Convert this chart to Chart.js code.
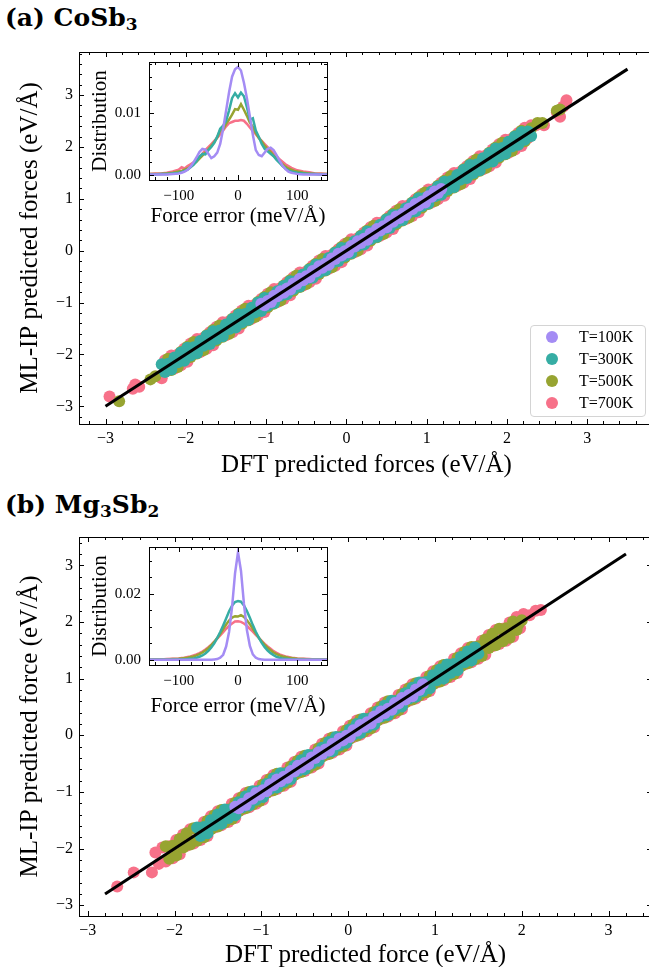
<!DOCTYPE html>
<html lang="en">
<head>
<meta charset="UTF-8">
<title>ML-IP vs DFT forces</title>
<script src="https://cdn.jsdelivr.net/npm/chart.js@4.4.3/dist/chart.umd.min.js"></script>
<style>
  body { margin: 0; width: 649px; height: 967px; overflow: hidden; position: relative; background: #fff; font-family: "Liberation Serif", serif; }
  canvas { position: absolute; }
  .panel-title { position: absolute; left: 5px; font-family: "DejaVu Serif", serif; font-weight: bold; font-size: 25px; line-height: 30px; white-space: nowrap; color: #000; }
  .panel-title sub { font-size: 0.68em; vertical-align: -0.22em; line-height: 0; }
  .legend { position: absolute; left: 530px; top: 325px; width: 116px; height: 92px; box-sizing: border-box; border: 1px solid #d4d4d4; border-radius: 4px; background: rgba(255,255,255,0.85); font-size: 16px; }
  .legend .row { height: 22px; line-height: 22px; white-space: nowrap; }
  .legend .dot { display: inline-block; width: 12px; height: 12px; border-radius: 50%; margin-left: 15px; margin-right: 21px; vertical-align: -1px; }
</style>
</head>
<body>
<div class="panel-title" style="top:3px">(a) CoSb<sub>3</sub></div>
<div class="panel-title" style="top:490px">(b) Mg<sub>3</sub>Sb<sub>2</sub></div>
<canvas id="mainA" width="660" height="484" style="left:0;top:0"></canvas>
<canvas id="insetA" width="260" height="175" style="left:85px;top:55px"></canvas>
<div id="legendA" class="legend"></div>
<canvas id="mainB" width="660" height="487" style="left:0;top:480px"></canvas>
<canvas id="insetB" width="260" height="180" style="left:85px;top:540px"></canvas>

<script>
// --- series shared by both panels ---
const seriesNames = ['T=100K', 'T=300K', 'T=500K', 'T=700K'];
const seriesColors = ['#a48cf4', '#36ada4', '#97a431', '#f77189'];

// --- axis ticks ---
const forceTicks = [-3, -2, -1, 0, 1, 2, 3];
const errTicks = [-100, 0, 100];
const distTicksA = [0, 0.01];
const distTicksB = [0, 0.02];

// --- parity line end points (x = y) ---
const lineA = [-3, 3.5];
const lineB = [-2.8, 3.2];

// --- (a) CoSb3 scatter: [DFT force, ML-IP force] ---
const coT100 = [[-1.06,-1.02],[-1.02,-1.05],[-0.98,-0.97],[-0.94,-0.99],[-0.90,-0.87],[-0.86,-0.88],[-0.82,-0.78],[-0.78,-0.81],[-0.74,-0.73],[-0.70,-0.75],
  [-0.66,-0.63],[-0.62,-0.64],[-0.58,-0.54],[-0.54,-0.57],[-0.50,-0.49],[-0.46,-0.51],[-0.42,-0.39],[-0.38,-0.40],[-0.34,-0.30],[-0.30,-0.33],
  [-0.26,-0.25],[-0.22,-0.27],[-0.18,-0.15],[-0.14,-0.16],[-0.10,-0.06],[-0.06,-0.09],[-0.02,-0.01],[0.02,-0.03],[0.06,0.09],[0.10,0.08],
  [0.14,0.18],[0.18,0.15],[0.22,0.23],[0.26,0.21],[0.30,0.33],[0.34,0.32],[0.38,0.42],[0.42,0.39],[0.46,0.47],[0.50,0.45],
  [0.54,0.57],[0.58,0.56],[0.62,0.66],[0.66,0.63],[0.70,0.71],[0.74,0.69],[0.78,0.81],[0.82,0.80],[0.86,0.90],[0.90,0.87],
  [0.94,0.95],[0.98,0.93],[1.02,1.05],[1.06,1.04],[1.10,1.14],[1.14,1.11],[1.18,1.19]];
const coT300 = [[-2.30,-2.19],[-2.26,-2.34],[-2.22,-2.18],[-2.18,-2.29],[-2.14,-2.06],[-2.10,-2.15],[-2.06,-1.96],[-2.02,-2.12],
  [-1.98,-1.87],[-1.94,-2.02],[-1.90,-1.86],[-1.86,-1.97],[-1.82,-1.74],[-1.78,-1.83],[-1.74,-1.64],[-1.70,-1.80],
  [-1.66,-1.55],[-1.62,-1.70],[-1.58,-1.54],[-1.54,-1.65],[-1.50,-1.42],[-1.46,-1.51],[-1.42,-1.32],[-1.38,-1.48],
  [-1.34,-1.23],[-1.30,-1.38],[-1.26,-1.22],[-1.22,-1.33],[-1.18,-1.10],[-1.14,-1.19],[-1.10,-1.00],[-1.06,-1.16],
  [-1.02,-0.91],[-0.98,-1.06],[-0.94,-0.90],[-0.90,-1.01],[-0.86,-0.78],[-0.82,-0.87],[-0.78,-0.68],[-0.74,-0.84],
  [-0.70,-0.59],[-0.66,-0.74],[-0.62,-0.58],[-0.58,-0.69],[-0.54,-0.46],[-0.50,-0.55],[-0.46,-0.36],[-0.42,-0.52],
  [-0.38,-0.27],[-0.34,-0.42],[-0.30,-0.26],[-0.26,-0.37],[-0.22,-0.14],[-0.18,-0.23],[-0.14,-0.04],[-0.10,-0.20],
  [-0.06,0.05],[-0.02,-0.10],[0.02,0.06],[0.06,-0.05],[0.10,0.18],[0.14,0.09],[0.18,0.28],[0.22,0.12],
  [0.26,0.37],[0.30,0.22],[0.34,0.38],[0.38,0.27],[0.42,0.50],[0.46,0.41],[0.50,0.60],[0.54,0.44],
  [0.58,0.69],[0.62,0.54],[0.66,0.70],[0.70,0.59],[0.74,0.82],[0.78,0.73],[0.82,0.92],[0.86,0.76],
  [0.90,1.01],[0.94,0.86],[0.98,1.02],[1.02,0.91],[1.06,1.14],[1.10,1.05],[1.14,1.24],[1.18,1.08],
  [1.22,1.33],[1.26,1.18],[1.30,1.34],[1.34,1.23],[1.38,1.46],[1.42,1.37],[1.46,1.56],[1.50,1.40],
  [1.54,1.65],[1.58,1.50],[1.62,1.66],[1.66,1.55],[1.70,1.78],[1.74,1.69],[1.78,1.88],[1.82,1.72],
  [1.86,1.97],[1.90,1.82],[1.94,1.98],[1.98,1.87],[2.02,2.10],[2.06,2.01],[2.10,2.20],[2.14,2.04],
  [2.18,2.29],[2.22,2.14],[2.26,2.30],[2.30,2.21]];
const coT500 = [[-2.83,-2.90],[-2.44,-2.48],[-2.38,-2.42],
  [-2.22,-2.08],[-2.18,-2.30],[-2.14,-2.07],[-2.10,-2.24],[-2.06,-1.95],[-2.02,-2.10],[-1.98,-1.85],[-1.94,-2.05],
  [-1.90,-1.76],[-1.86,-1.98],[-1.82,-1.75],[-1.78,-1.92],[-1.74,-1.63],[-1.70,-1.78],[-1.66,-1.53],[-1.62,-1.73],
  [-1.58,-1.44],[-1.54,-1.66],[-1.50,-1.43],[-1.46,-1.60],[-1.42,-1.31],[-1.38,-1.46],[-1.34,-1.21],[-1.30,-1.41],
  [-1.26,-1.12],[-1.22,-1.34],[-1.18,-1.11],[-1.14,-1.28],[-1.10,-0.99],[-1.06,-1.14],[-1.02,-0.89],[-0.98,-1.09],
  [-0.94,-0.80],[-0.90,-1.02],[-0.86,-0.79],[-0.82,-0.96],[-0.78,-0.67],[-0.74,-0.82],[-0.70,-0.57],[-0.66,-0.77],
  [-0.62,-0.48],[-0.58,-0.70],[-0.54,-0.47],[-0.50,-0.64],[-0.46,-0.35],[-0.42,-0.50],[-0.38,-0.25],[-0.34,-0.45],
  [-0.30,-0.16],[-0.26,-0.38],[-0.22,-0.15],[-0.18,-0.32],[-0.14,-0.03],[-0.10,-0.18],[-0.06,0.07],[-0.02,-0.13],
  [0.02,0.16],[0.06,-0.06],[0.10,0.17],[0.14,0.00],[0.18,0.29],[0.22,0.14],[0.26,0.39],[0.30,0.19],
  [0.34,0.48],[0.38,0.26],[0.42,0.49],[0.46,0.32],[0.50,0.61],[0.54,0.46],[0.58,0.71],[0.62,0.51],
  [0.66,0.80],[0.70,0.58],[0.74,0.81],[0.78,0.64],[0.82,0.93],[0.86,0.78],[0.90,1.03],[0.94,0.83],
  [0.98,1.12],[1.02,0.90],[1.06,1.13],[1.10,0.96],[1.14,1.25],[1.18,1.10],[1.22,1.35],[1.26,1.15],
  [1.30,1.44],[1.34,1.22],[1.38,1.45],[1.42,1.28],[1.46,1.57],[1.50,1.42],[1.54,1.67],[1.58,1.47],
  [1.62,1.76],[1.66,1.54],[1.70,1.77],[1.74,1.60],[1.78,1.89],[1.82,1.74],[1.86,1.99],[1.90,1.79],
  [1.94,2.08],[1.98,1.86],[2.02,2.09],[2.06,1.92],[2.10,2.21],[2.14,2.06],[2.18,2.31],[2.22,2.11],
  [2.30,2.36],[2.38,2.46],[2.44,2.46],[2.62,2.70],[2.66,2.72]];
const coT700 = [[-2.95,-2.81],[-2.66,-2.66],[-2.63,-2.58],[-2.58,-2.62],
  [-2.30,-2.46],[-2.26,-2.11],[-2.22,-2.31],[-2.18,-2.02],[-2.14,-2.27],[-2.10,-2.00],[-2.06,-2.21],[-2.02,-1.89],
  [-1.98,-2.14],[-1.94,-1.79],[-1.90,-1.99],[-1.86,-1.70],[-1.82,-1.95],[-1.78,-1.68],[-1.74,-1.89],[-1.70,-1.57],
  [-1.66,-1.82],[-1.62,-1.47],[-1.58,-1.67],[-1.54,-1.38],[-1.50,-1.63],[-1.46,-1.36],[-1.42,-1.57],[-1.38,-1.25],
  [-1.34,-1.50],[-1.30,-1.15],[-1.26,-1.35],[-1.22,-1.06],[-1.18,-1.31],[-1.14,-1.04],[-1.10,-1.25],[-1.06,-0.93],
  [-1.02,-1.18],[-0.98,-0.83],[-0.94,-1.03],[-0.90,-0.74],[-0.86,-0.99],[-0.82,-0.72],[-0.78,-0.93],[-0.74,-0.61],
  [-0.70,-0.86],[-0.66,-0.51],[-0.62,-0.71],[-0.58,-0.42],[-0.54,-0.67],[-0.50,-0.40],[-0.46,-0.61],[-0.42,-0.29],
  [-0.38,-0.54],[-0.34,-0.19],[-0.30,-0.39],[-0.26,-0.10],[-0.22,-0.35],[-0.18,-0.08],[-0.14,-0.29],[-0.10,0.03],
  [-0.06,-0.22],[-0.02,0.13],[0.02,-0.07],[0.06,0.22],[0.10,-0.03],[0.14,0.24],[0.18,0.03],[0.22,0.35],
  [0.26,0.10],[0.30,0.45],[0.34,0.25],[0.38,0.54],[0.42,0.29],[0.46,0.56],[0.50,0.35],[0.54,0.67],
  [0.58,0.42],[0.62,0.77],[0.66,0.57],[0.70,0.86],[0.74,0.61],[0.78,0.88],[0.82,0.67],[0.86,0.99],
  [0.90,0.74],[0.94,1.09],[0.98,0.89],[1.02,1.18],[1.06,0.93],[1.10,1.20],[1.14,0.99],[1.18,1.31],
  [1.22,1.06],[1.26,1.41],[1.30,1.21],[1.34,1.50],[1.38,1.25],[1.42,1.52],[1.46,1.31],[1.50,1.63],
  [1.54,1.38],[1.58,1.73],[1.62,1.53],[1.66,1.82],[1.70,1.57],[1.74,1.84],[1.78,1.63],[1.82,1.95],
  [1.86,1.70],[1.90,2.05],[1.94,1.85],[1.98,2.14],[2.02,1.89],[2.06,2.16],[2.10,1.95],[2.14,2.27],
  [2.18,2.02],[2.22,2.37],[2.26,2.17],[2.30,2.42],
  [2.36,2.42],[2.46,2.42],[2.62,2.67],[2.66,2.58],[2.70,2.78],[2.74,2.90]];

// --- (b) Mg3Sb2 scatter ---
const mgT100 = [[-1.30,-1.26],[-1.26,-1.29],[-1.22,-1.21],[-1.18,-1.23],[-1.14,-1.11],[-1.10,-1.12],[-1.06,-1.02],[-1.02,-1.05],[-0.98,-0.97],[-0.94,-0.99],
  [-0.90,-0.87],[-0.86,-0.88],[-0.82,-0.78],[-0.78,-0.81],[-0.74,-0.73],[-0.70,-0.75],[-0.66,-0.63],[-0.62,-0.64],[-0.58,-0.54],[-0.54,-0.57],
  [-0.50,-0.49],[-0.46,-0.51],[-0.42,-0.39],[-0.38,-0.40],[-0.34,-0.30],[-0.30,-0.33],[-0.26,-0.25],[-0.22,-0.27],[-0.18,-0.15],[-0.14,-0.16],
  [-0.10,-0.06],[-0.06,-0.09],[-0.02,-0.01],[0.02,-0.03],[0.06,0.09],[0.10,0.08],[0.14,0.18],[0.18,0.15],[0.22,0.23],[0.26,0.21],
  [0.30,0.33],[0.34,0.32],[0.38,0.42],[0.42,0.39],[0.46,0.47],[0.50,0.45],[0.54,0.57],[0.58,0.56],[0.62,0.66],[0.66,0.63],
  [0.70,0.71],[0.74,0.69],[0.78,0.81],[0.82,0.80],[0.86,0.90]];
const mgT300 = [[-1.74,-1.63],[-1.70,-1.78],[-1.66,-1.62],[-1.62,-1.73],[-1.58,-1.50],[-1.54,-1.59],[-1.50,-1.40],[-1.46,-1.56],
  [-1.42,-1.31],[-1.38,-1.46],[-1.34,-1.30],[-1.30,-1.41],[-1.26,-1.18],[-1.22,-1.27],[-1.18,-1.08],[-1.14,-1.24],
  [-1.10,-0.99],[-1.06,-1.14],[-1.02,-0.98],[-0.98,-1.09],[-0.94,-0.86],[-0.90,-0.95],[-0.86,-0.76],[-0.82,-0.92],
  [-0.78,-0.67],[-0.74,-0.82],[-0.70,-0.66],[-0.66,-0.77],[-0.62,-0.54],[-0.58,-0.63],[-0.54,-0.44],[-0.50,-0.60],
  [-0.46,-0.35],[-0.42,-0.50],[-0.38,-0.34],[-0.34,-0.45],[-0.30,-0.22],[-0.26,-0.31],[-0.22,-0.12],[-0.18,-0.28],
  [-0.14,-0.03],[-0.10,-0.18],[-0.06,-0.02],[-0.02,-0.13],[0.02,0.10],[0.06,0.01],[0.10,0.20],[0.14,0.04],
  [0.18,0.29],[0.22,0.14],[0.26,0.30],[0.30,0.19],[0.34,0.42],[0.38,0.33],[0.42,0.52],[0.46,0.36],
  [0.50,0.61],[0.54,0.46],[0.58,0.62],[0.62,0.51],[0.66,0.74],[0.70,0.65],[0.74,0.84],[0.78,0.68],
  [0.82,0.93],[0.86,0.78],[0.90,0.94],[0.94,0.83],[0.98,1.06],[1.02,0.97],[1.06,1.16],[1.10,1.00],
  [1.14,1.25],[1.18,1.10],[1.22,1.26],[1.26,1.15],[1.30,1.38],[1.34,1.29],[1.38,1.48],[1.42,1.32],
  [1.46,1.55],[1.50,1.44]];
const mgT500 = [[-2.10,-1.96],[-2.06,-2.18],[-2.02,-1.95],[-1.98,-2.12],[-1.94,-1.83],[-1.90,-1.98],[-1.86,-1.73],[-1.82,-1.93],
  [-1.78,-1.64],[-1.74,-1.86],[-1.70,-1.63],[-1.66,-1.80],[-1.62,-1.51],[-1.58,-1.66],[-1.54,-1.41],[-1.50,-1.61],
  [-1.46,-1.32],[-1.42,-1.54],[-1.38,-1.31],[-1.34,-1.48],[-1.30,-1.19],[-1.26,-1.34],[-1.22,-1.09],[-1.18,-1.29],
  [-1.14,-1.00],[-1.10,-1.22],[-1.06,-0.99],[-1.02,-1.16],[-0.98,-0.87],[-0.94,-1.02],[-0.90,-0.77],[-0.86,-0.97],
  [-0.82,-0.68],[-0.78,-0.90],[-0.74,-0.67],[-0.70,-0.84],[-0.66,-0.55],[-0.62,-0.70],[-0.58,-0.45],[-0.54,-0.65],
  [-0.50,-0.36],[-0.46,-0.58],[-0.42,-0.35],[-0.38,-0.52],[-0.34,-0.23],[-0.30,-0.38],[-0.26,-0.13],[-0.22,-0.33],
  [-0.18,-0.04],[-0.14,-0.26],[-0.10,-0.03],[-0.06,-0.20],[-0.02,0.09],[0.02,-0.06],[0.06,0.19],[0.10,-0.01],
  [0.14,0.28],[0.18,0.06],[0.22,0.29],[0.26,0.12],[0.30,0.41],[0.34,0.26],[0.38,0.51],[0.42,0.31],
  [0.46,0.60],[0.50,0.38],[0.54,0.61],[0.58,0.44],[0.62,0.73],[0.66,0.58],[0.70,0.83],[0.74,0.63],
  [0.78,0.92],[0.82,0.70],[0.86,0.93],[0.90,0.76],[0.94,1.05],[0.98,0.90],[1.02,1.15],[1.06,0.95],
  [1.10,1.24],[1.14,1.02],[1.18,1.25],[1.22,1.08],[1.26,1.37],[1.30,1.22],[1.34,1.47],[1.38,1.27],
  [1.42,1.56],[1.46,1.34],[1.50,1.57],[1.54,1.40],[1.58,1.69],[1.62,1.54],[1.66,1.79],[1.70,1.59],
  [1.74,1.88],[1.78,1.66],[1.82,1.89],[1.86,1.72],[1.90,2.01],[1.94,1.86],[1.96,1.96],[2.00,2.03]];
const mgT700 = [[-2.66,-2.67],[-2.47,-2.42],
  [-2.26,-2.42],[-2.22,-2.07],[-2.18,-2.27],[-2.14,-1.98],[-2.10,-2.23],[-2.06,-1.96],[-2.02,-2.17],[-1.98,-1.85],
  [-1.94,-2.10],[-1.90,-1.75],[-1.86,-1.95],[-1.82,-1.66],[-1.78,-1.91],[-1.74,-1.64],[-1.70,-1.85],[-1.66,-1.53],
  [-1.62,-1.78],[-1.58,-1.43],[-1.54,-1.63],[-1.50,-1.34],[-1.46,-1.59],[-1.42,-1.32],[-1.38,-1.53],[-1.34,-1.21],
  [-1.30,-1.46],[-1.26,-1.11],[-1.22,-1.31],[-1.18,-1.02],[-1.14,-1.27],[-1.10,-1.00],[-1.06,-1.21],[-1.02,-0.89],
  [-0.98,-1.14],[-0.94,-0.79],[-0.90,-0.99],[-0.86,-0.70],[-0.82,-0.95],[-0.78,-0.68],[-0.74,-0.89],[-0.70,-0.57],
  [-0.66,-0.82],[-0.62,-0.47],[-0.58,-0.67],[-0.54,-0.38],[-0.50,-0.63],[-0.46,-0.36],[-0.42,-0.57],[-0.38,-0.25],
  [-0.34,-0.50],[-0.30,-0.15],[-0.26,-0.35],[-0.22,-0.06],[-0.18,-0.31],[-0.14,-0.04],[-0.10,-0.25],[-0.06,0.07],
  [-0.02,-0.18],[0.02,0.17],[0.06,-0.03],[0.10,0.26],[0.14,0.01],[0.18,0.28],[0.22,0.07],[0.26,0.39],
  [0.30,0.14],[0.34,0.49],[0.38,0.29],[0.42,0.58],[0.46,0.33],[0.50,0.60],[0.54,0.39],[0.58,0.71],
  [0.62,0.46],[0.66,0.81],[0.70,0.61],[0.74,0.90],[0.78,0.65],[0.82,0.92],[0.86,0.71],[0.90,1.03],
  [0.94,0.78],[0.98,1.13],[1.02,0.93],[1.06,1.22],[1.10,0.97],[1.14,1.24],[1.18,1.03],[1.22,1.35],
  [1.26,1.10],[1.30,1.45],[1.34,1.25],[1.38,1.54],[1.42,1.29],[1.46,1.56],[1.50,1.35],[1.54,1.67],
  [1.58,1.42],[1.62,1.77],[1.66,1.57],[1.70,1.86],[1.74,1.61],[1.78,1.88],[1.82,1.67],[1.86,1.99],
  [1.90,1.74],[1.94,2.09],[1.98,1.89],[2.02,2.14],
  [2.09,2.12],[2.16,2.20],[2.22,2.21]];

// --- inset distributions of force error (meV/Å) ---
const errX = [-150,-140,-130,-120,-110,-100,-95,-90,-85,-80,-75,-70,-65,-60,-55,-50,-45,-40,-35,-30,-25,-20,-15,-10,-5,0,5,10,15,20,25,30,35,40,45,50,55,60,65,70,75,80,85,90,95,100,110,120,130,140,150];
const coDist100 = [0,0,0,0,0.0001,0.0002,0.0003,0.0005,0.0008,0.0013,0.0020,0.0028,0.0037,0.0042,0.0041,0.0034,0.0027,0.0030,0.0036,0.0050,0.0075,0.0105,0.0135,0.0160,0.0172,0.0176,0.0170,0.0150,0.0125,0.0095,0.0065,0.0040,0.0032,0.0030,0.0036,0.0042,0.0044,0.0040,0.0032,0.0023,0.0015,0.0009,0.0005,0.0003,0.0002,0.0001,0,0,0,0,0];
const coDist300 = [0,0,0.0001,0.0001,0.0002,0.0003,0.0004,0.0006,0.0008,0.0012,0.0016,0.0022,0.0029,0.0034,0.0033,0.0040,0.0045,0.0052,0.0062,0.0075,0.0080,0.0088,0.0105,0.0125,0.0133,0.0126,0.0134,0.0128,0.0110,0.0090,0.0092,0.0072,0.0062,0.0050,0.0042,0.0038,0.0034,0.0030,0.0024,0.0019,0.0014,0.0010,0.0007,0.0005,0.0004,0.0003,0.0002,0.0001,0.0001,0,0];
const coDist500 = [0.0001,0.0001,0.0001,0.0002,0.0003,0.0005,0.0006,0.0008,0.0010,0.0013,0.0017,0.0021,0.0026,0.0031,0.0036,0.0041,0.0047,0.0053,0.0061,0.0072,0.0074,0.0083,0.0090,0.0098,0.0107,0.0106,0.0115,0.0106,0.0096,0.0085,0.0078,0.0068,0.0060,0.0054,0.0047,0.0042,0.0037,0.0031,0.0026,0.0021,0.0017,0.0013,0.0010,0.0008,0.0006,0.0005,0.0003,0.0002,0.0001,0.0001,0.0001];
const coDist700 = [0.0001,0.0002,0.0002,0.0003,0.0005,0.0008,0.0012,0.0010,0.0014,0.0017,0.0020,0.0024,0.0029,0.0034,0.0040,0.0045,0.0050,0.0055,0.0060,0.0066,0.0072,0.0079,0.0084,0.0086,0.0088,0.0088,0.0089,0.0088,0.0083,0.0077,0.0071,0.0066,0.0060,0.0055,0.0050,0.0045,0.0040,0.0034,0.0030,0.0025,0.0021,0.0017,0.0014,0.0011,0.0009,0.0007,0.0005,0.0004,0.0002,0.0002,0.0001];
const mgDist100 = [0,0,0,0,0,0,0,0,0,0,0,0,0,0,0,0,0,0.0001,0.0002,0.0006,0.0015,0.0040,0.0085,0.0160,0.0262,0.0326,0.0270,0.0170,0.0090,0.0042,0.0016,0.0006,0.0002,0.0001,0,0,0,0,0,0,0,0,0,0,0,0,0,0,0,0,0];
const mgDist300 = [0,0,0,0,0,0.0001,0.0001,0.0001,0.0002,0.0003,0.0004,0.0006,0.0009,0.0013,0.0019,0.0027,0.0037,0.0050,0.0066,0.0084,0.0104,0.0125,0.0147,0.0164,0.0175,0.0178,0.0176,0.0165,0.0148,0.0127,0.0105,0.0085,0.0067,0.0051,0.0038,0.0028,0.0020,0.0014,0.0009,0.0006,0.0004,0.0003,0.0002,0.0001,0.0001,0.0001,0,0,0,0,0];
const mgDist500 = [0,0.0001,0.0001,0.0001,0.0002,0.0003,0.0004,0.0005,0.0006,0.0008,0.0010,0.0013,0.0017,0.0022,0.0028,0.0035,0.0044,0.0054,0.0066,0.0079,0.0093,0.0107,0.0119,0.0128,0.0132,0.0131,0.0135,0.0130,0.0120,0.0108,0.0094,0.0080,0.0067,0.0055,0.0045,0.0036,0.0029,0.0022,0.0017,0.0013,0.0010,0.0008,0.0006,0.0005,0.0004,0.0003,0.0002,0.0001,0.0001,0.0001,0];
const mgDist700 = [0.0001,0.0001,0.0001,0.0002,0.0003,0.0004,0.0005,0.0006,0.0008,0.0010,0.0013,0.0016,0.0020,0.0025,0.0031,0.0038,0.0046,0.0055,0.0064,0.0074,0.0084,0.0094,0.0103,0.0110,0.0116,0.0117,0.0115,0.0110,0.0103,0.0094,0.0085,0.0075,0.0066,0.0057,0.0048,0.0040,0.0033,0.0026,0.0021,0.0016,0.0013,0.0010,0.0008,0.0006,0.0005,0.0004,0.0003,0.0002,0.0001,0.0001,0.0001];

Chart.defaults.font.family = '"Liberation Serif", serif';
Chart.defaults.color = '#000';

// unicode minus like the LaTeX labels
const fmtInt = v => (v < 0 ? '\u2212' + Math.abs(v) : String(v));

// draws the box and the inward ticks on all four sides (matplotlib look)
const frameTicks = {
    id: 'frameTicks',
    afterDraw(chart, args, o) {
        const {ctx, chartArea: a} = chart;
        const sx = chart.scales.x, sy = chart.scales.y;
        const minors = (scale, step, majors) => {
            const out = [];
            for (let k = Math.ceil(scale.min / step - 1e-9); k * step <= scale.max + 1e-9; k++) {
                const v = k * step;
                if (!majors.some(m => Math.abs(m - v) < step / 10)) out.push(v);
            }
            return out;
        };
        ctx.save();
        ctx.strokeStyle = '#000';
        ctx.lineWidth = 1;
        ctx.beginPath();
        const xt = (vals, len) => vals.forEach(v => {
            if (v < sx.min || v > sx.max) return;
            const p = Math.round(sx.getPixelForValue(v)) + 0.5;
            ctx.moveTo(p, a.bottom); ctx.lineTo(p, a.bottom - len);
            ctx.moveTo(p, a.top); ctx.lineTo(p, a.top + len);
        });
        const yt = (vals, len) => vals.forEach(v => {
            if (v < sy.min || v > sy.max) return;
            const p = Math.round(sy.getPixelForValue(v)) + 0.5;
            ctx.moveTo(a.left, p); ctx.lineTo(a.left + len, p);
            ctx.moveTo(a.right, p); ctx.lineTo(a.right - len, p);
        });
        xt(o.xMajor, 5); xt(minors(sx, o.xStep, o.xMajor), 3);
        yt(o.yMajor, 5); yt(minors(sy, o.yStep, o.yMajor), 3);
        ctx.stroke();
        ctx.strokeRect(Math.round(a.left) + 0.5, Math.round(a.top) + 0.5,
            Math.round(a.right - a.left), Math.round(a.bottom - a.top));
        ctx.restore();
    }
};

function noPad(scale) {
    scale.paddingLeft = 0; scale.paddingRight = 0;
    scale.paddingTop = 0; scale.paddingBottom = 0;
}

function mainChart(id, sets, linePts, xr, yr, xTitle, yTitle, pad, xH, xTitlePad) {
    const datasets = [{
        type: 'line',
        data: linePts.map(v => ({x: v, y: v})),
        borderColor: '#000',
        borderWidth: 3,
        pointRadius: 0,
        order: 0
    }];
    sets.forEach((pts, i) => datasets.push({
        type: 'scatter',
        label: seriesNames[i],
        data: pts.map(([x, y]) => ({x, y})),
        backgroundColor: seriesColors[i],
        borderColor: seriesColors[i],
        pointRadius: 6,
        pointBorderWidth: 0,
        order: i + 1
    }));
    return new Chart(document.getElementById(id), {
        type: 'scatter',
        data: {datasets},
        options: {
            responsive: false,
            animation: false,
            devicePixelRatio: 1,
            events: [],
            layout: {padding: pad},
            plugins: {
                legend: {display: false},
                tooltip: {enabled: false},
                frameTicks: {xMajor: forceTicks, yMajor: forceTicks, xStep: 0.2, yStep: 0.2}
            },
            scales: {
                x: {
                    type: 'linear', min: xr[0], max: xr[1],
                    grid: {display: false, drawTicks: false}, border: {display: false},
                    afterBuildTicks: s => { s.ticks = forceTicks.map(v => ({value: v})); },
                    afterFit: s => { s.height = xH; noPad(s); },
                    ticks: {callback: fmtInt, font: {size: 16}, padding: 5, maxRotation: 0, autoSkip: false},
                    title: {display: true, text: xTitle, font: {size: 25}, padding: {top: 0, bottom: xTitlePad}}
                },
                y: {
                    type: 'linear', min: yr[0], max: yr[1],
                    grid: {display: false, drawTicks: false}, border: {display: false},
                    afterBuildTicks: s => { s.ticks = forceTicks.map(v => ({value: v})); },
                    afterFit: s => { s.width = 79; noPad(s); },
                    ticks: {callback: fmtInt, font: {size: 16}, padding: 6, autoSkip: false},
                    title: {display: true, text: yTitle, font: {size: 25}, padding: {top: 15, bottom: 0}}
                }
            }
        },
        plugins: [frameTicks]
    });
}

function insetChart(id, curves, yr, yTicks, yStep, xH, xTitlePad) {
    return new Chart(document.getElementById(id), {
        type: 'line',
        data: {
            datasets: curves.map((vals, i) => ({
                label: seriesNames[i],
                data: errX.map((x, j) => ({x, y: vals[j]})),
                borderColor: seriesColors[i],
                borderWidth: 2.5,
                pointRadius: 0,
                tension: 0,
                order: i
            }))
        },
        options: {
            responsive: false,
            animation: false,
            devicePixelRatio: 1,
            events: [],
            layout: {padding: {top: 7, right: 18, left: 0, bottom: 0}},
            plugins: {
                legend: {display: false},
                tooltip: {enabled: false},
                frameTicks: {xMajor: errTicks, yMajor: yTicks, xStep: 20, yStep: yStep}
            },
            scales: {
                x: {
                    type: 'linear', min: -150, max: 150,
                    grid: {display: false, drawTicks: false}, border: {display: false},
                    afterBuildTicks: s => { s.ticks = errTicks.map(v => ({value: v})); },
                    afterFit: s => { s.height = xH; noPad(s); },
                    ticks: {callback: fmtInt, font: {size: 15}, padding: 7, maxRotation: 0, autoSkip: false},
                    title: {display: true, text: 'Force error (meV/Å)', font: {size: 21}, padding: {top: 0, bottom: xTitlePad}}
                },
                y: {
                    type: 'linear', min: yr[0], max: yr[1],
                    grid: {display: false, drawTicks: false}, border: {display: false},
                    afterBuildTicks: s => { s.ticks = yTicks.map(v => ({value: v})); },
                    afterFit: s => { s.width = 64; noPad(s); },
                    ticks: {callback: v => v.toFixed(2), font: {size: 15}, padding: 8, autoSkip: false},
                    title: {display: true, text: 'Distribution', font: {size: 21}, padding: {top: 3, bottom: 0}}
                }
            }
        },
        plugins: [frameTicks]
    });
}

mainChart('mainA', [coT100, coT300, coT500, coT700], lineA, [-3.33, 3.83], [-3.34, 3.83],
    'DFT predicted forces (eV/Å)', 'ML-IP predicted forces (eV/Å)',
    {left: 0, top: 52, right: 6, bottom: 0}, 60, 4);
mainChart('mainB', [mgT100, mgT300, mgT500, mgT700], lineB, [-3.1, 3.5], [-3.19, 3.5],
    'DFT predicted force (eV/Å)', 'ML-IP predicted force (eV/Å)',
    {left: 0, top: 57, right: 8, bottom: 0}, 51, -3);
insetChart('insetA', [coDist100, coDist300, coDist500, coDist700], [-0.00088, 0.0184], distTicksA, 0.002, 50, 1);
insetChart('insetB', [mgDist100, mgDist300, mgDist500, mgDist700], [-0.0016, 0.0342], distTicksB, 0.005, 55, 1);

// legend of panel (a), built from the series arrays
const legendA = document.getElementById('legendA');
seriesNames.forEach((name, i) => {
    const row = document.createElement('div');
    row.className = 'row';
    const dot = document.createElement('span');
    dot.className = 'dot';
    dot.style.background = seriesColors[i];
    row.appendChild(dot);
    row.appendChild(document.createTextNode(name));
    legendA.appendChild(row);
});
</script>
</body>
</html>
